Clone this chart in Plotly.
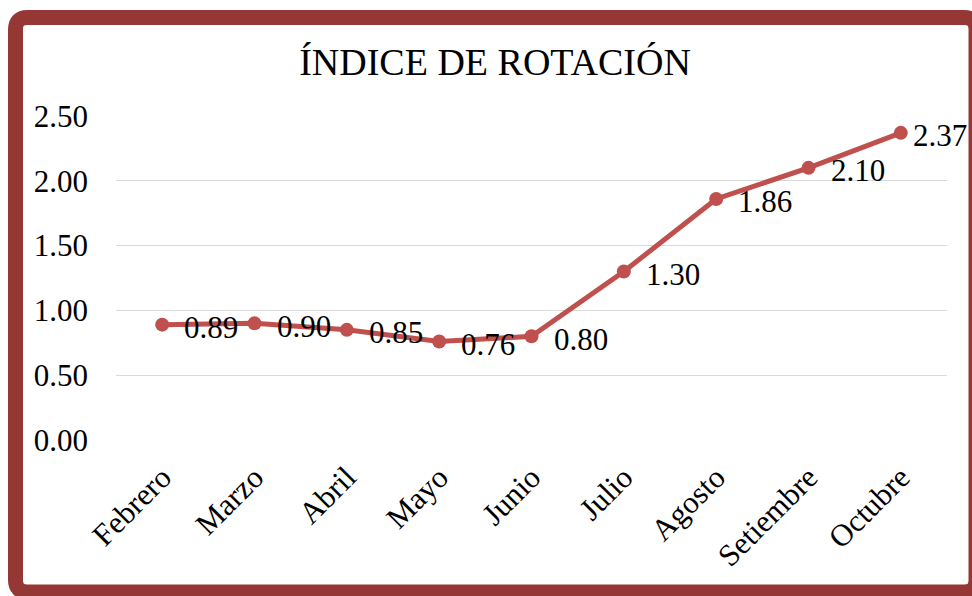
import plotly.graph_objects as go

months = ["Febrero", "Marzo", "Abril", "Mayo", "Junio", "Julio", "Agosto", "Setiembre", "Octubre"]
values = [0.89, 0.90, 0.85, 0.76, 0.80, 1.30, 1.86, 2.10, 2.37]
labels = [f"{v:.2f}" for v in values]
y_ticks = [0.0, 0.5, 1.0, 1.5, 2.0, 2.5]
y_tick_text = [f"{v:.2f}" for v in y_ticks]
title_text = "ÍNDICE DE ROTACIÓN"

W, H = 972, 596
L, T = 116, 116
R = W - 947
B = H - 440
pw, ph = W - L - R, H - T - B


def px(x):
    return (x - L) / pw


def py(y):
    return (H - B - y) / ph


FONT = "Liberation Serif, Times New Roman, serif"
LINE = "#C0504D"
FRAME = "#953735"

fig = go.Figure()
fig.add_trace(go.Scatter(
    x=months, y=values, mode="lines+markers",
    line=dict(color=LINE, width=5),
    marker=dict(color=LINE, size=14),
    hoverinfo="skip", showlegend=False,
))

annotations = []
n = len(months)
for i, (m, v, t) in enumerate(zip(months, values, labels)):
    annotations.append(dict(
        x=m, y=v, xref="x", yref="y", text=t, showarrow=False,
        xanchor="left", yanchor="middle", xshift=(10 if i == n - 1 else 20), yshift=-3,
        font=dict(family=FONT, size=31, color="black"),
    ))

# rounded frame (screen pixel coords)
l, t, r, b, rad = 15.5, 17.5, 976, 592, 12
path = (
    f"M {px(l + rad)},{py(t)} L {px(r - rad)},{py(t)} "
    f"Q {px(r)},{py(t)} {px(r)},{py(t + rad)} "
    f"L {px(r)},{py(b - rad)} Q {px(r)},{py(b)} {px(r - rad)},{py(b)} "
    f"L {px(l + rad)},{py(b)} Q {px(l)},{py(b)} {px(l)},{py(b - rad)} "
    f"L {px(l)},{py(t + rad)} Q {px(l)},{py(t)} {px(l + rad)},{py(t)} Z"
)
shapes = [dict(type="path", xref="paper", yref="paper", path=path,
               line=dict(color=FRAME, width=15), fillcolor="rgba(0,0,0,0)", layer="above")]

fig.update_layout(
    width=W, height=H,
    margin=dict(l=L, r=R, t=T, b=B, autoexpand=False),
    paper_bgcolor="white", plot_bgcolor="white",
    title=dict(text=title_text, x=495 / W, xref="container", xanchor="center",
               y=1 - 62 / H, yref="container", yanchor="middle",
               font=dict(family=FONT, size=38, color="black")),
    font=dict(family=FONT, color="black"),
    xaxis=dict(type="category", range=[-0.5, 8.5], showgrid=False, zeroline=False,
               showline=False, tickangle=-45, ticks="", ticklabelstandoff=12,
               automargin=False,
               tickfont=dict(family=FONT, size=31, color="black")),
    yaxis=dict(range=[0, 2.5], tickvals=y_ticks, ticktext=y_tick_text, showgrid=True,
               gridcolor="#D9D9D9", gridwidth=1, zeroline=False, showline=False,
               ticks="", ticklabelstandoff=27, automargin=False,
               tickfont=dict(family=FONT, size=31, color="black")),
    annotations=annotations,
    shapes=shapes,
)

fig.write_html(
    "out.html",
    config={"displayModeBar": False, "staticPlot": True},
    post_script="document.body.style.margin='0';document.body.style.overflow='hidden';",
)
